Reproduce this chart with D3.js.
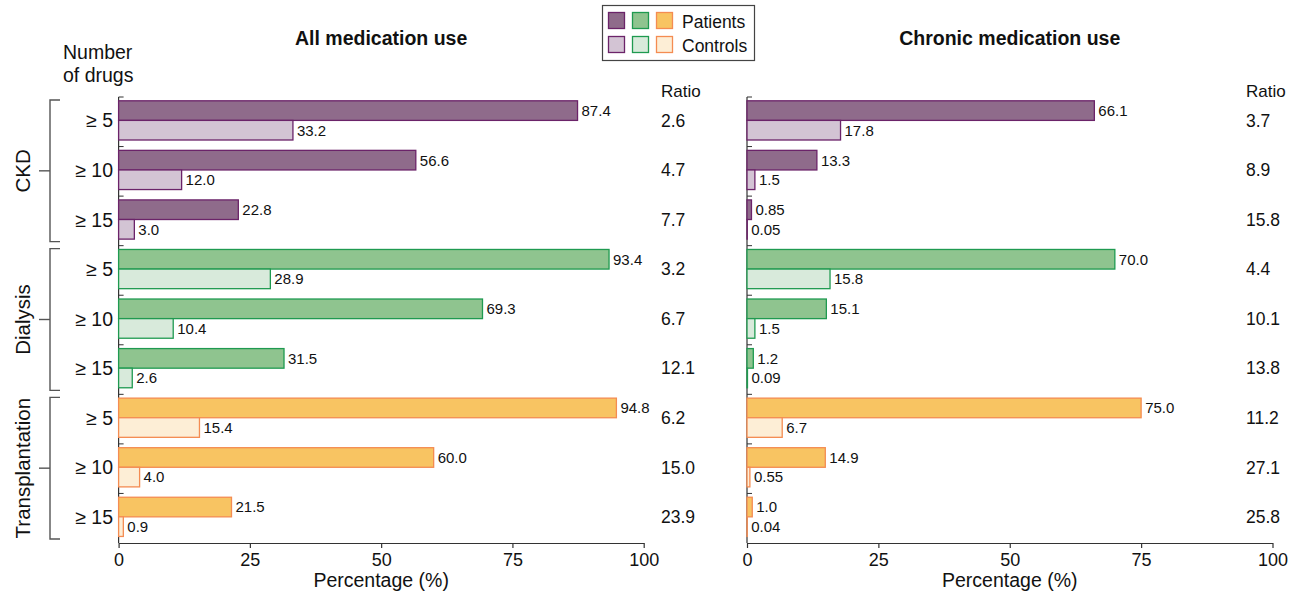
<!DOCTYPE html>
<html>
<head>
<meta charset="utf-8">
<script src="https://cdn.jsdelivr.net/npm/d3@7/dist/d3.min.js"></script>
<style>
  html, body { margin: 0; padding: 0; background: #fff; }
  svg { display: block; font-family: "Liberation Sans", Arial, sans-serif; }
</style>
</head>
<body>
<svg id="chart" width="1297" height="594"></svg>
<script>
// ---- data ----
const groups = ["CKD", "Dialysis", "Transplantation"];
const thresholds = ["≥ 5", "≥ 10", "≥ 15"];

const allPatients  = [87.4, 56.6, 22.8, 93.4, 69.3, 31.5, 94.8, 60.0, 21.5];
const allControls  = [33.2, 12.0, 3.0, 28.9, 10.4, 2.6, 15.4, 4.0, 0.9];
const allRatio     = ["2.6", "4.7", "7.7", "3.2", "6.7", "12.1", "6.2", "15.0", "23.9"];

const chronicPatients = [66.1, 13.3, 0.85, 70.0, 15.1, 1.2, 75.0, 14.9, 1.0];
const chronicControls = [17.8, 1.5, 0.05, 15.8, 1.5, 0.09, 6.7, 0.55, 0.04];
const chronicRatio    = ["3.7", "8.9", "15.8", "4.4", "10.1", "13.8", "11.2", "27.1", "25.8"];

const xTicks = [0, 25, 50, 75, 100];

// ---- styling ----
const palette = {
  CKD:             { pFill: "#8f6b8b", cFill: "#d3c4d4", stroke: "#6b2369" },
  Dialysis:        { pFill: "#8fc48f", cFill: "#d8eadb", stroke: "#1f9a50" },
  Transplantation: { pFill: "#f8c462", cFill: "#fdeed6", stroke: "#f48c52" }
};

const svg = d3.select("#chart");
const plotTop = 97, plotBottom = 543;

// one row per (group, threshold)
const rows = [];
groups.forEach((g, gi) => thresholds.forEach((t, ti) => rows.push({ group: g, thr: t, i: gi * 3 + ti })));

const y = d3.scaleBand().domain(rows.map(r => r.i)).range([plotTop, plotBottom]).paddingInner(0).paddingOuter(0);
const barH = 19.6, barOff = 3.8;

function drawPanel(x0, x1, patients, controls, ratios, ratioX, title, fmt) {
  const x = d3.scaleLinear().domain([0, 100]).range([x0, x1]);
  const g = svg.append("g");

  // bottom axis
  const ax = g.append("g").attr("transform", `translate(0,${plotBottom})`)
    .call(d3.axisBottom(x).tickValues(xTicks).tickSize(5).tickSizeOuter(0).tickPadding(5));
  ax.select(".domain").attr("stroke", "#333").attr("stroke-width", 1.2);
  ax.selectAll(".tick line").attr("stroke", "#333").attr("stroke-width", 1.2);
  ax.selectAll(".tick text").attr("font-size", 18).attr("fill", "#111")
    .attr("font-family", "Liberation Sans, Arial, sans-serif");

  // left axis with inward row ticks
  g.append("line").attr("x1", x0).attr("x2", x0).attr("y1", plotTop).attr("y2", plotBottom)
    .attr("stroke", "#333").attr("stroke-width", 1.2);
  g.selectAll("line.rowtick").data(d3.range(rows.length)).join("line")
    .attr("class", "rowtick")
    .attr("x1", x0).attr("x2", x0 + 5)
    .attr("y1", d => y(d)).attr("y2", d => y(d))
    .attr("stroke", "#333").attr("stroke-width", 1);

  // patient bars
  g.selectAll("rect.pat").data(rows).join("rect")
    .attr("class", "pat")
    .attr("x", x0)
    .attr("y", r => y(r.i) + barOff)
    .attr("width", r => x(patients[r.i]) - x0)
    .attr("height", barH)
    .attr("fill", r => palette[r.group].pFill)
    .attr("stroke", r => palette[r.group].stroke)
    .attr("stroke-width", 1.3);

  // control bars
  g.selectAll("rect.ctl").data(rows).join("rect")
    .attr("class", "ctl")
    .attr("x", x0)
    .attr("y", r => y(r.i) + barOff + barH)
    .attr("width", r => x(controls[r.i]) - x0)
    .attr("height", barH)
    .attr("fill", r => palette[r.group].cFill)
    .attr("stroke", r => palette[r.group].stroke)
    .attr("stroke-width", 1.3);

  // value labels
  g.selectAll("text.patv").data(rows).join("text")
    .attr("class", "patv")
    .attr("x", r => x(patients[r.i]) + 4)
    .attr("y", r => y(r.i) + barOff + barH / 2)
    .attr("dy", "0.36em")
    .attr("font-size", 15).attr("fill", "#111")
    .text(r => fmt(patients[r.i]));
  g.selectAll("text.ctlv").data(rows).join("text")
    .attr("class", "ctlv")
    .attr("x", r => x(controls[r.i]) + 4)
    .attr("y", r => y(r.i) + barOff + barH * 1.5)
    .attr("dy", "0.36em")
    .attr("font-size", 15).attr("fill", "#111")
    .text(r => fmt(controls[r.i]));

  // ratio column
  g.append("text").attr("x", ratioX).attr("y", 97).attr("font-size", 17).attr("fill", "#111").text("Ratio");
  g.selectAll("text.ratio").data(rows).join("text")
    .attr("class", "ratio")
    .attr("x", ratioX)
    .attr("y", r => y(r.i) + barOff + barH)
    .attr("dy", "0.36em")
    .attr("font-size", 17.5).attr("fill", "#111")
    .text(r => ratios[r.i]);

  // x axis title
  g.append("text").attr("x", (x0 + x1) / 2).attr("y", 587).attr("text-anchor", "middle")
    .attr("font-size", 19.5).attr("fill", "#111").text("Percentage (%)");

  // panel title
  g.append("text").attr("x", (x0 + x1) / 2).attr("y", 45).attr("text-anchor", "middle")
    .attr("font-size", 19.5).attr("font-weight", "bold").attr("fill", "#111").text(title);
}

drawPanel(118.6, 643.7, allPatients, allControls, allRatio, 661, "All medication use", v => v.toFixed(1));
drawPanel(747, 1272.5, chronicPatients, chronicControls, chronicRatio, 1246, "Chronic medication use",
  v => v < 1 ? v.toFixed(2) : v.toFixed(1));

// threshold labels
svg.selectAll("text.thr").data(rows).join("text")
  .attr("class", "thr")
  .attr("x", 113)
  .attr("y", r => y(r.i) + barOff + barH)
  .attr("dy", "0.36em")
  .attr("text-anchor", "end")
  .attr("font-size", 19.5).attr("fill", "#111")
  .text(r => r.thr);

// "Number of drugs" header
svg.append("text").attr("x", 63).attr("y", 59).attr("font-size", 19.5).attr("fill", "#111").text("Number");
svg.append("text").attr("x", 63).attr("y", 81.5).attr("font-size", 19.5).attr("fill", "#111").text("of drugs");

// group brackets
groups.forEach((gname, gi) => {
  const y0 = y(gi * 3) + 3, y1 = y(gi * 3 + 2) + y.bandwidth() - 4;
  const ym = (y0 + y1) / 2;
  const b = svg.append("g").attr("stroke", "#555").attr("stroke-width", 1.4).attr("fill", "none");
  b.append("path").attr("d", `M60,${y0}H50V${y1}H60`);
  b.append("line").attr("x1", 39).attr("x2", 50).attr("y1", ym).attr("y2", ym);
  svg.append("text")
    .attr("transform", `translate(29.5,${ym}) rotate(-90)`)
    .attr("text-anchor", "middle")
    .attr("font-size", 20.5).attr("fill", "#111")
    .text(gname);
});

// legend
const lg = svg.append("g");
lg.append("rect").attr("x", 602.5).attr("y", 5.5).attr("width", 152).attr("height", 55)
  .attr("fill", "#fff").attr("stroke", "#444").attr("stroke-width", 1.2);
groups.forEach((gname, k) => {
  const c = palette[gname];
  lg.append("rect").attr("x", 608.5 + k * 24).attr("y", 12.5).attr("width", 16).attr("height", 16)
    .attr("fill", c.pFill).attr("stroke", c.stroke).attr("stroke-width", 1.3);
  lg.append("rect").attr("x", 608.5 + k * 24).attr("y", 36.5).attr("width", 16).attr("height", 16)
    .attr("fill", c.cFill).attr("stroke", c.stroke).attr("stroke-width", 1.3);
});
lg.append("text").attr("x", 682).attr("y", 27.5).attr("font-size", 17.5).attr("fill", "#111").text("Patients");
lg.append("text").attr("x", 682).attr("y", 51.5).attr("font-size", 17.5).attr("fill", "#111").text("Controls");
</script>
</body>
</html>
